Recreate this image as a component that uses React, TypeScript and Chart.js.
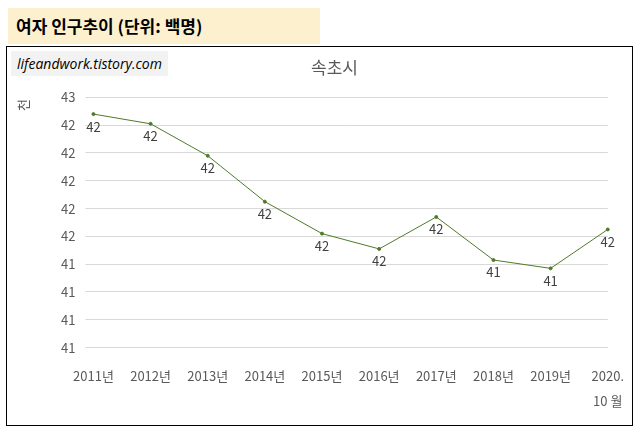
import React, { useEffect, useRef } from "react";
import { Chart, registerables } from "chart.js";
Chart.register(...registerables);

const categories: (string | string[])[] = ["2011년", "2012년", "2013년", "2014년", "2015년", "2016년", "2017년", "2018년", "2019년", ["2020.", "10 월"]];
const values = [42480, 42410, 42180, 41850, 41620, 41510, 41740, 41430, 41370, 41650];
const yMin = 40800;
const yMax = 42600;
const yStep = 200;

const labelPlugin = {
  id: "pointLabels",
  afterDatasetsDraw(chart: any) {
    const ctx = chart.ctx;
    const meta = chart.getDatasetMeta(0);
    ctx.save();
    ctx.font = "13px 'Malgun Gothic','Noto Sans CJK KR',sans-serif";
    ctx.fillStyle = "#404040";
    ctx.textAlign = "center";
    ctx.textBaseline = "top";
    meta.data.forEach((p: any, i: number) => {
      ctx.fillText(String(Math.round(values[i] / 1000)), p.x, p.y + 6);
    });
    ctx.restore();
  },
};

export default function App() {
  const ref = useRef<HTMLCanvasElement>(null);
  useEffect(() => {
    const font = "'Noto Sans CJK KR', sans-serif";
    const chart = new Chart(ref.current!, {
      type: "line",
      data: {
        labels: categories,
        datasets: [{
          data: values,
          borderColor: "#4f7a28",
          backgroundColor: "#4f7a28",
          borderWidth: 1,
          pointRadius: 1.5,
          tension: 0,
        }],
      },
      options: {
        animation: false,
        responsive: false,
        layout: { padding: { left: 44, right: 14, top: 0, bottom: 4 } },
        plugins: {
          legend: { display: false },
          tooltip: { enabled: false },
          title: { display: true, text: "속초시", color: "#595959", font: { family: font, size: 17, weight: "normal" }, padding: { top: 10, bottom: 20 } },
        },
        scales: {
          x: {
            grid: { display: false },
            border: { color: "#d9d9d9" },
            ticks: { color: "#595959", font: { family: font, size: 13, lineHeight: 1.9 }, padding: 8, maxRotation: 0, autoSkip: false },
          },
          y: {
            min: yMin, max: yMax,
            border: { display: false },
            grid: { color: "#d9d9d9" },
            ticks: { stepSize: yStep, color: "#595959", font: { family: font, size: 13 }, padding: 10, callback: (v: any) => String(Math.round(Number(v) / 1000)) },
          },
        },
      },
      plugins: [labelPlugin],
    });
    return () => chart.destroy();
  }, []);
  return (
    <div>
      <div style={{ position: "fixed", left: 8, top: 8, width: 312, height: 36, background: "#fdf0cf", fontFamily: "'Noto Sans CJK KR',sans-serif", fontWeight: "bold", fontSize: 17, lineHeight: "36px", paddingLeft: 8, boxSizing: "border-box" }}>여자 인구추이 (단위: 백명)</div>
      <div style={{ position: "fixed", left: 6, top: 46, width: 627, height: 380, border: "1px solid #000", boxSizing: "border-box", background: "#fff" }}>
        <canvas ref={ref} width={625} height={378} style={{ display: "block" }} />
        <div style={{ position: "absolute", left: 4, top: 4, padding: "3px 6px", background: "#f2f2f2", fontFamily: "'Open Sans',sans-serif", fontStyle: "italic", fontSize: 14 }}>lifeandwork.tistory.com</div>
        <div style={{ position: "absolute", left: 8, top: 50, width: 16, lineHeight: "16px", textAlign: "center", transform: "rotate(-90deg)", color: "#595959", fontFamily: "'Noto Sans CJK KR',sans-serif", fontSize: 13 }}>천</div>
      </div>
    </div>
  );
}
